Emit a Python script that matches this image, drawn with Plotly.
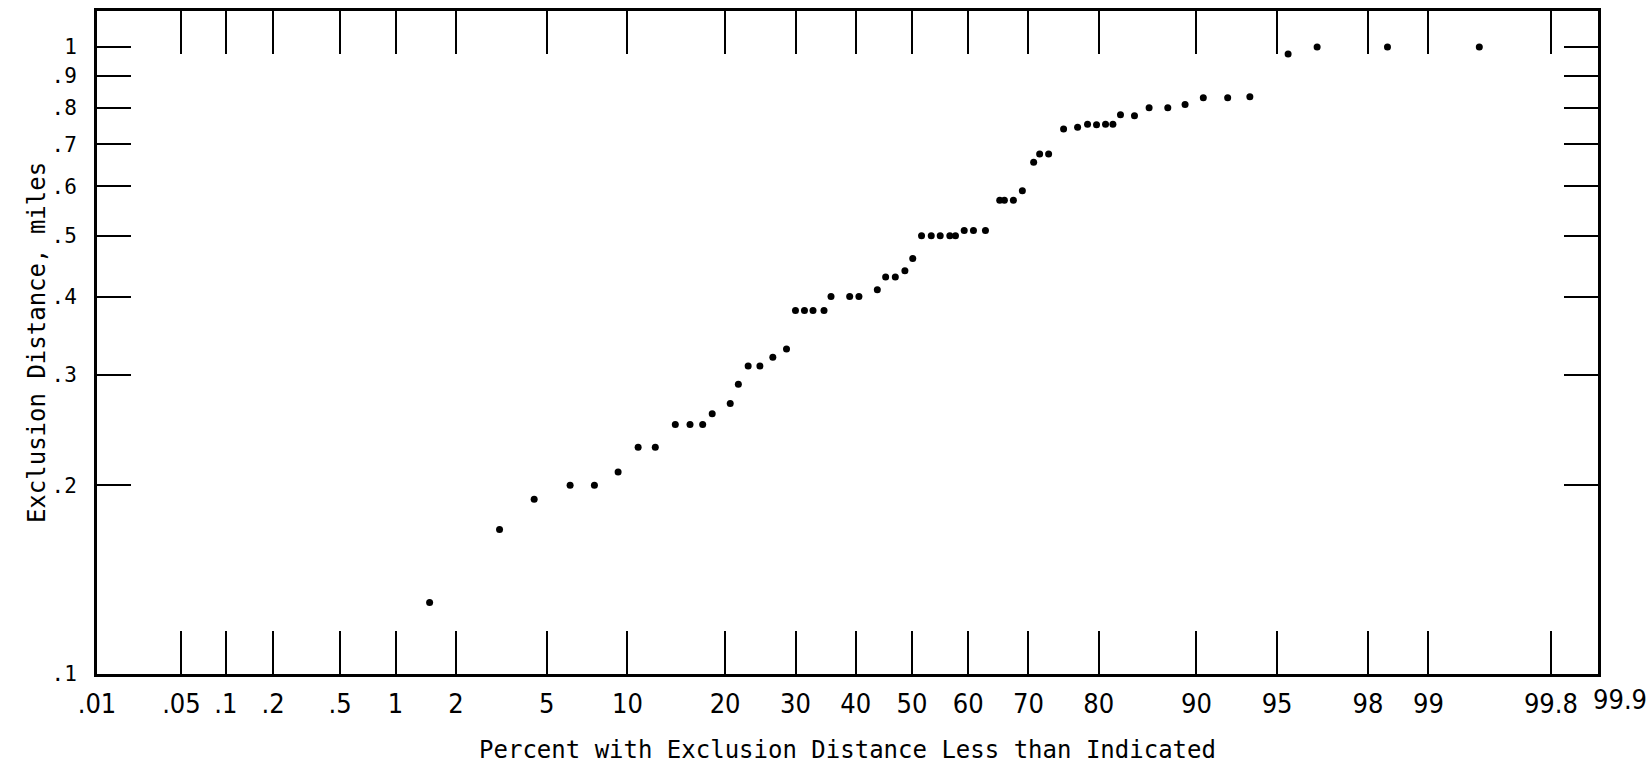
import plotly.graph_objects as go
from statistics import NormalDist

# Data (percent with exclusion distance less than indicated, miles)
percent = [1.49, 3.16, 4.44, 6.18, 7.63, 9.28, 10.87, 12.38, 14.32, 15.87,
           17.29, 18.41, 20.65, 21.71, 23.03, 24.67, 26.54, 28.60, 29.99, 31.41,
           32.79, 34.60, 35.77, 38.95, 40.56, 43.80, 45.28, 47.01, 48.73, 50.14,
           51.72, 53.46, 55.06, 56.77, 57.77, 59.30, 60.91, 62.97, 65.37, 66.14,
           67.61, 69.05, 70.82, 71.74, 73.09, 75.27, 77.22, 78.55, 79.71, 80.84,
           81.73, 82.62, 84.19, 85.73, 87.54, 89.07, 90.53, 92.25, 93.60, 95.49,
           96.60, 98.39, 99.47]
miles = [0.13, 0.17, 0.19, 0.20, 0.20, 0.21, 0.23, 0.23, 0.25, 0.25,
         0.25, 0.26, 0.27, 0.29, 0.31, 0.31, 0.32, 0.33, 0.38, 0.38,
         0.38, 0.38, 0.40, 0.40, 0.40, 0.41, 0.43, 0.43, 0.44, 0.46,
         0.50, 0.50, 0.50, 0.50, 0.50, 0.51, 0.51, 0.51, 0.57, 0.57,
         0.57, 0.59, 0.655, 0.675, 0.675, 0.74, 0.745, 0.753, 0.752, 0.753,
         0.753, 0.78, 0.777, 0.80, 0.80, 0.81, 0.83, 0.83, 0.833, 0.975,
         1.0, 1.0, 1.0]

x_tick_pct = [0.01, 0.05, 0.1, 0.2, 0.5, 1, 2, 5, 10, 20, 30, 40, 50, 60, 70,
              80, 90, 95, 98, 99, 99.8, 99.9]
x_tick_text = [".01", ".05", ".1", ".2", ".5", "1", "2", "5", "10", "20", "30",
               "40", "50", "60", "70", "80", "90", "95", "98", "99", "99.8", "99.9"]
y_tick_vals = [0.1, 0.2, 0.3, 0.4, 0.5, 0.6, 0.7, 0.8, 0.9, 1.0]
y_tick_text = [".1", ".2", ".3", ".4", ".5", ".6", ".7", ".8", ".9", "1"]

nd = NormalDist()


def probit(p):
    return nd.inv_cdf(p / 100.0)


# The printed graph paper starts slightly inside .01
x_left = -3.671
x_right = probit(99.9)
x_tick_vals = [probit(p) for p in x_tick_pct]
x_tick_vals[0] = x_left

# the last label ("99.9") is printed just right of the frame, so it is drawn
# as an annotation anchored at its tick value instead of as a centred tick label
x_axis_labels = list(x_tick_text)
last_label = x_axis_labels[-1]
x_axis_labels[-1] = ""

fig = go.Figure()
fig.add_trace(go.Scatter(
    x=[probit(p) for p in percent],
    y=miles,
    mode="markers",
    marker=dict(color="black", size=7, line=dict(width=0)),
    showlegend=False,
    hoverinfo="skip",
))

x_tick_font = dict(family="Liberation Sans Narrow, DejaVu Sans Condensed, DejaVu Sans Mono",
                   size=27, color="black")
y_tick_font = dict(family="DejaVu Sans Mono", size=21, color="black")
title_font = dict(family="DejaVu Sans Mono", size=24, color="black")

fig.add_annotation(
    x=x_tick_vals[-1], xref="x", y=0, yref="paper",
    text=last_label, showarrow=False, borderpad=0,
    xanchor="left", yanchor="top", xshift=-6, yshift=-9,
    font=x_tick_font,
)

fig.update_layout(
    width=1652, height=764,
    margin=dict(l=97, r=54, t=11, b=90, pad=0, autoexpand=False),
    paper_bgcolor="white",
    plot_bgcolor="white",
    xaxis=dict(
        range=[x_left, x_right],
        tickmode="array", tickvals=x_tick_vals, ticktext=x_axis_labels,
        tickangle=0, automargin=False,
        ticks="inside", ticklen=43, tickwidth=2, tickcolor="black",
        showline=True, linewidth=3, linecolor="black", mirror="ticks",
        showgrid=False, zeroline=False,
        tickfont=x_tick_font, ticklabelstandoff=4,
        title=dict(text="Percent with Exclusion Distance Less than Indicated",
                   font=title_font, standoff=23),
    ),
    yaxis=dict(
        type="log",
        range=[-1, 0.0576],
        tickmode="array", tickvals=y_tick_vals, ticktext=y_tick_text,
        tickangle=0, automargin=False,
        ticks="inside", ticklen=34, tickwidth=2, tickcolor="black",
        showline=True, linewidth=3, linecolor="black", mirror="ticks",
        showgrid=False, zeroline=False,
        tickfont=y_tick_font, ticklabelstandoff=13,
        title=dict(text="Exclusion Distance, miles", font=title_font, standoff=0),
    ),
)

fig.write_html(
    "out.html",
    config={"displayModeBar": False},
    post_script="document.body.style.margin='0px';document.body.style.overflow='hidden';",
)
